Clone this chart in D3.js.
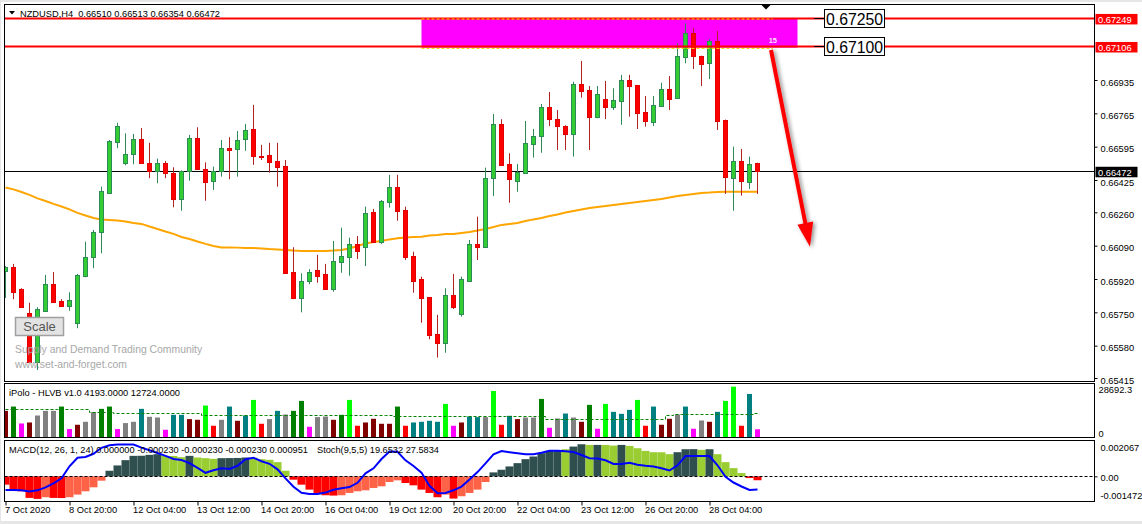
<!DOCTYPE html>
<html><head><meta charset="utf-8">
<script src="https://cdn.jsdelivr.net/npm/d3@7"></script>
<style>
html,body{margin:0;padding:0;background:#fff;overflow:hidden;}
svg{display:block;font-family:"Liberation Sans",Arial,sans-serif;}
</style></head><body>
<svg id="c" width="1142" height="524"></svg>
<script>
// ---------------- DATA ----------------
const symbolTitle = "NZDUSD,H4  0.66510 0.66513 0.66354 0.66472";
const open = [
0.65961,0.65983,0.65868,0.65747,0.65498,0.65758,0.65895,0.65808,0.65784,0.65697,
0.65935,0.66031,0.66158,0.66360,0.66617,0.66510,0.66556,0.66634,0.66510,0.66471,
0.66510,0.66459,0.66327,0.66471,0.66638,0.66480,0.66420,0.66471,0.66587,0.66582,
0.66633,0.66685,0.66549,0.66553,0.66522,0.66496,0.65956,0.65825,0.65910,0.65966,
0.65944,0.65868,0.66008,0.66034,0.66099,0.66085,0.66260,0.66110,0.66314,0.66388,
0.66272,0.66037,0.65920,0.65827,0.65640,0.65595,0.65839,0.65742,0.65911,0.66099,
0.66085,0.66434,0.66709,0.66505,0.66421,0.66462,0.66607,0.66651,0.66796,0.66736,
0.66702,0.66658,0.66913,0.66884,0.66748,0.66838,0.66799,0.66829,0.66935,0.66910,
0.66770,0.66722,0.66804,0.66888,0.66845,0.67054,0.67173,0.67057,0.67020,0.67134,
0.66731,0.66437,0.66520,0.66416,0.66510];
const high = [
0.65986,0.65997,0.65873,0.65799,0.65776,0.65941,0.65956,0.65817,0.65852,0.65946,
0.66110,0.66170,0.66391,0.66629,0.66717,0.66663,0.66660,0.66690,0.66615,0.66534,
0.66522,0.66490,0.66474,0.66655,0.66694,0.66515,0.66493,0.66629,0.66643,0.66675,
0.66711,0.66808,0.66604,0.66615,0.66615,0.66527,0.66082,0.65949,0.65970,0.66043,
0.65997,0.66114,0.66182,0.66131,0.66139,0.66289,0.66277,0.66323,0.66451,0.66451,
0.66289,0.66059,0.65932,0.65828,0.65737,0.65873,0.65946,0.65932,0.66119,0.66238,
0.66488,0.66762,0.66735,0.66561,0.66507,0.66726,0.66685,0.66813,0.66874,0.66782,
0.66704,0.66926,0.67032,0.66904,0.66904,0.66930,0.66893,0.66961,0.66961,0.66910,
0.66853,0.66853,0.66921,0.66955,0.67122,0.67224,0.67199,0.67059,0.67143,0.67185,
0.66733,0.66595,0.66583,0.66544,0.66513];
const low = [
0.65823,0.65817,0.65777,0.65497,0.65456,0.65755,0.65802,0.65782,0.65758,0.65669,
0.65929,0.65975,0.66051,0.66359,0.66587,0.66500,0.66505,0.66508,0.66434,0.66408,
0.66434,0.66286,0.66268,0.66421,0.66478,0.66319,0.66374,0.66442,0.66429,0.66442,
0.66574,0.66502,0.66527,0.66462,0.66391,0.65946,0.65817,0.65750,0.65893,0.65901,
0.65866,0.65855,0.65952,0.65937,0.66022,0.65986,0.66108,0.66099,0.66284,0.66217,
0.66017,0.65850,0.65697,0.65613,0.65519,0.65544,0.65767,0.65728,0.65908,0.66017,
0.66080,0.66343,0.66500,0.66309,0.66365,0.66460,0.66539,0.66564,0.66700,0.66578,
0.66578,0.66544,0.66845,0.66578,0.66740,0.66736,0.66782,0.66706,0.66748,0.66685,
0.66697,0.66700,0.66802,0.66782,0.66843,0.67020,0.66991,0.66904,0.66940,0.66680,
0.66354,0.66268,0.66345,0.66379,0.66354];
const close = [
0.65983,0.65855,0.65779,0.65498,0.65766,0.65895,0.65804,0.65784,0.65813,0.65941,
0.66031,0.66158,0.66369,0.66624,0.66700,0.66556,0.66634,0.66510,0.66471,0.66510,
0.66459,0.66327,0.66471,0.66638,0.66480,0.66416,0.66471,0.66587,0.66578,0.66629,
0.66680,0.66549,0.66542,0.66518,0.66493,0.65949,0.65825,0.65910,0.65956,0.65937,
0.65868,0.66012,0.66037,0.66099,0.66064,0.66255,0.66110,0.66318,0.66388,0.66268,
0.66034,0.65911,0.65825,0.65635,0.65595,0.65839,0.65779,0.65920,0.66099,0.66085,
0.66434,0.66709,0.66502,0.66429,0.66464,0.66612,0.66651,0.66796,0.66735,0.66702,
0.66658,0.66913,0.66880,0.66748,0.66862,0.66799,0.66833,0.66935,0.66906,0.66768,
0.66727,0.66808,0.66888,0.66838,0.67057,0.67173,0.67059,0.67017,0.67134,0.66727,
0.66442,0.66520,0.66421,0.66507,0.66472];
const movingAvg = [
0.66387,0.66377,0.66364,0.66349,0.66331,0.66318,0.66303,0.66290,0.66275,0.66257,
0.66244,0.66231,0.66224,0.66221,0.66218,0.66213,0.66206,0.66201,0.66188,0.66175,
0.66162,0.66150,0.66134,0.66124,0.66111,0.66099,0.66088,0.66081,0.66081,0.66080,
0.66078,0.66078,0.66076,0.66073,0.66071,0.66068,0.66065,0.66063,0.66063,0.66063,
0.66063,0.66065,0.66068,0.66076,0.66088,0.66101,0.66109,0.66114,0.66122,0.66128,
0.66132,0.66134,0.66136,0.66142,0.66145,0.66150,0.66150,0.66155,0.66160,0.66167,
0.66175,0.66185,0.66196,0.66201,0.66206,0.66216,0.66224,0.66231,0.66241,0.66249,
0.66259,0.66267,0.66275,0.66282,0.66287,0.66292,0.66298,0.66303,0.66308,0.66313,
0.66318,0.66323,0.66328,0.66336,0.66343,0.66349,0.66354,0.66359,0.66361,0.66364,
0.66365,0.66365,0.66365,0.66365,0.66365];
const volume = [
14157,16472,7321,7859,11627,14157,14157,16472,4306,6621,
8236,13458,15234,16472,4306,7536,8236,15234,10927,10551,
3930,12004,12004,9689,9313,17010,6083,9313,16472,8774,
11627,20079,7159,9689,14157,12166,14157,19540,5544,10766,
11089,9313,12004,20079,6083,7859,9851,7159,7159,16472,
6083,7859,8236,8774,8236,17925,6083,7859,11089,10766,
10766,24923,6621,11466,9689,10551,10551,20617,5006,10012,
12704,10551,8236,17387,4468,17925,13619,12542,14696,20079,
6083,16472,6621,9851,12166,16472,4468,8936,8236,13619,
19540,27238,6083,23308,4193];
const volumeType = [
"M","G","P","M","N","N","N","G","P","M",
"N","N","G","G","P","N","N","T","N","N",
"P","T","T","M","M","L","R","N","T","M",
"T","L","R","N","T","N","G","G","P","N",
"N","M","G","L","R","M","M","M","M","G",
"R","T","T","T","T","L","P","M","T","T",
"N","L","R","T","M","N","N","G","P","N",
"T","N","M","G","P","L","T","T","T","L",
"R","T","M","M","N","T","P","N","M","T",
"L","L","R","T","P"];
const volumeAvg = [
15070,15070,15070,15070,15070,15070,15070,15070,15070,15070,
15070,13780,13780,13780,12920,12920,12920,12920,12920,12920,
12920,12920,12920,12920,12920,12000,12000,12000,12000,12000,
12000,12000,12000,12000,12000,12000,12000,12000,12000,12000,
12000,12000,12000,12000,12000,12000,12000,12000,12000,11470,
11470,11470,11470,11470,11470,11470,11470,11470,11470,11470,
11470,11470,11470,11470,11470,11470,11470,11470,10010,10010,
10010,10010,10010,10010,10010,10010,10010,10010,10010,10010,
10010,10010,10010,12000,12600,12600,12600,12600,12600,12600,
12600,12600,12600,12600,12724];
const macdHist = [
-0.000490,-0.000783,-0.000881,-0.001272,-0.001330,-0.001232,-0.001272,-0.001280,-0.001232,-0.001076,
-0.000881,-0.000647,-0.000256,0.000330,0.000643,0.000955,0.001209,0.001215,0.001268,0.001307,
0.001209,0.001200,0.001131,0.001209,0.001112,0.001072,0.001033,0.001072,0.001078,0.001085,
0.001112,0.001100,0.001014,0.000975,0.000838,0.000330,-0.000197,-0.000490,-0.000783,-0.000979,
-0.001115,-0.001135,-0.001115,-0.000979,-0.000881,-0.000822,-0.000686,-0.000588,-0.000334,-0.000236,
-0.000393,-0.000529,-0.000783,-0.000979,-0.001232,-0.001076,-0.001311,-0.001174,-0.000979,-0.000783,
-0.000334,0.000233,0.000389,0.000584,0.000779,0.001014,0.001170,0.001365,0.001502,0.001530,
0.001600,0.001756,0.001893,0.001854,0.001854,0.001850,0.001815,0.001854,0.001795,0.001658,
0.001502,0.001424,0.001420,0.001307,0.001424,0.001600,0.001605,0.001561,0.001600,0.001307,
0.000838,0.000486,0.000193,-0.000100,-0.000230];
const macdType = [
"R","R","R","R","R","T","R","R","T","T",
"T","T","T","D","D","D","D","D","D","D",
"Y","Y","Y","D","Y","Y","Y","D","D","D",
"D","Y","Y","Y","Y","Y","R","R","R","R",
"R","R","T","T","T","T","T","T","T","T",
"R","R","R","R","R","T","R","T","T","T",
"T","D","D","D","D","D","D","D","D","D",
"Y","D","D","Y","D","Y","Y","D","Y","Y",
"Y","Y","Y","Y","D","D","D","Y","D","Y",
"Y","Y","Y","R","R"];
const stoch = [
18.8,18.8,18.3,16.2,18.3,23.3,30,38.3,58.3,72.5,
73.8,79.2,89.2,93.3,94.5,94.5,94.5,89.5,85,80.5,
75.8,70.5,68.8,63.7,55.8,47.5,51.7,55,53.8,59.2,
70,72.5,66.7,62.5,53.3,38.3,24.2,14.2,12.2,12.2,
14.5,19.2,21.7,23.8,30.8,46.7,55,70.5,82.8,82.5,
68.3,58.8,47.8,25.8,13.3,13.8,18.3,24.5,36.2,48.7,
63.3,78.3,83.7,81.7,80,78.3,78.3,80.8,84.2,84.2,
83.3,82,77.2,71.7,71.2,68.3,62.2,62.2,64.2,60.8,
59.2,58,55,51.3,60,75.5,75.5,75.5,75.5,60,
40.8,31.3,24.7,18.8,19.65];
const priceTicks = [0.66935,0.66765,0.66595,0.66425,0.66260,0.66090,0.65920,0.65750,0.65580,0.65415];
const levelLines = [0.67249,0.67106];
const lastPrice = 0.66472;
const zoneTop = 0.67250, zoneBottom = 0.67100;
const zoneStartIdx = 52, zoneEndIdx = 99, zoneDashEndIdx = 95.9, zoneCount = "15";
const zoneLabels = ["0.67250","0.67100"];
const arrowStart = [95.69, 0.67088];
const arrowEnd = [100.56, 0.66085];
const xTickIdx = [0,8,16,24,32,40,48,56,64,72,80,88];
const xTickLabels = ["7 Oct 2020","8 Oct 20:00","12 Oct 04:00","13 Oct 12:00","14 Oct 20:00","16 Oct 04:00","19 Oct 12:00","20 Oct 20:00","22 Oct 04:00","23 Oct 12:00","26 Oct 20:00","28 Oct 04:00"];
const volTitle = "iPolo - HLVB v1.0 4193.0000 12724.0000";
const volAxisMax = 28692.3;
const macdTitle = "MACD(12, 26, 1, 24) 0.000000 -0.000230 -0.000230 -0.000230 0.000951";
const stochTitle = "Stoch(9,5,5) 19.6532 27.5834";
const macdMax = 0.002067, macdMin = -0.001472;

// ---------------- STYLE ----------------
const volColor = {M:"#800000",G:"#008000",P:"#FF00FF",N:"#808080",T:"#008080",L:"#00FF00",R:"#FF0000"};
const macdColor = {R:"#FF0000",T:"#FF6347",D:"#2F4F4F",Y:"#9ACD32"};
const FS = 9.3;

// ---------------- SCALES ----------------
const L = 4.5, R = 1094.5;
const x = d3.scaleLinear().domain([0, 94]).range([5.5, 757.5]);
const y = d3.scaleLinear().domain([0.65415, 0.66935]).range([378, 80]);
const yVol = d3.scaleLinear().domain([0, volAxisMax]).range([437, 384]);
const yMacd = d3.scaleLinear().domain([macdMin, macdMax]).range([501.3, 441.3]);
const yStoch = d3.scaleLinear().domain([0, 100]).range([501.3, 441.3]);

const svg = d3.select("#c");
svg.append("rect").attr("width",1142).attr("height",524).attr("fill","#E6E6E6");
svg.append("rect").attr("x",1).attr("y",2).attr("width",1141).attr("height",519).attr("fill","#fff");

const defs = svg.append("defs");
[["clipMain",4.5,381.5],["clipVol",383.5,437.5],["clipMacd",440.5,501.5]].forEach(([id,t,b])=>{
  defs.append("clipPath").attr("id",id).append("rect").attr("x",L).attr("y",t).attr("width",R-L).attr("height",b-t);
});
const f = defs.append("filter").attr("id","shadow").attr("x","-50%").attr("y","-20%").attr("width","200%").attr("height","140%");
f.append("feDropShadow").attr("dx",2).attr("dy",1).attr("stdDeviation",2).attr("flood-color","#000").attr("flood-opacity",0.45);

// ---------------- MAIN PANEL ----------------
const gm = svg.append("g").attr("clip-path","url(#clipMain)");
gm.append("rect").attr("x",x(zoneStartIdx)).attr("y",y(zoneTop))
  .attr("width",x(zoneEndIdx)-x(zoneStartIdx)).attr("height",y(zoneBottom)-y(zoneTop)).attr("fill","#FF00FF");
gm.append("line").attr("x1",L).attr("x2",R).attr("y1",Math.round(y(lastPrice))+0.5).attr("y2",Math.round(y(lastPrice))+0.5)
  .attr("stroke","#000").attr("stroke-width",1);
gm.append("path").datum(movingAvg).attr("fill","none").attr("stroke","#FFA500").attr("stroke-width",2)
  .attr("d", d3.line().x((d,i)=>x(i)).y(d=>y(d)));
const cg = gm.append("g");
open.forEach((o,i)=>{
  const c = close[i], up = c > o;
  const cx = x(i);
  cg.append("line").attr("x1",cx).attr("x2",cx).attr("y1",y(high[i])).attr("y2",y(low[i]))
    .attr("stroke", up ? "#2E8B57" : "#B22222").attr("stroke-width",1);
  const t = Math.round(y(Math.max(o,c))), b = Math.round(y(Math.min(o,c)));
  cg.append("rect").attr("x",cx-2).attr("y",t+0.5).attr("width",4).attr("height",Math.max(1,b-t))
    .attr("fill", up ? "#32CD32" : "#FF0000").attr("stroke", up ? "#2E8B57" : "#E00000").attr("stroke-width",1);
});
levelLines.forEach(p=>{
  gm.append("line").attr("x1",L).attr("x2",R).attr("y1",y(p)).attr("y2",y(p)).attr("stroke","#FF0000").attr("stroke-width",2);
});
[y(zoneTop)+0.8, y(zoneBottom)+0.8].forEach(yy=>{
  gm.append("line").attr("x1",x(zoneStartIdx)).attr("x2",x(zoneDashEndIdx)).attr("y1",yy).attr("y2",yy)
    .attr("stroke","#FFD700").attr("stroke-width",1).attr("stroke-dasharray","3,2");
});
gm.append("text").attr("x",x(zoneDashEndIdx)-4).attr("y",y(zoneBottom)-4.5).attr("fill","#FFE0FF")
  .attr("font-size",7.5).attr("font-weight","bold").text(zoneCount);

// arrow
{
  const x1=x(arrowStart[0]), y1=y(arrowStart[1]), x2=x(arrowEnd[0]), y2=y(arrowEnd[1]);
  const dx=x2-x1, dy=y2-y1, len=Math.hypot(dx,dy), ux=dx/len, uy=dy/len, px=-uy, py=ux;
  const hl=24, hw=8;
  const bx=x2-ux*hl, by=y2-uy*hl;
  const ag = svg.append("g").attr("filter","url(#shadow)");
  ag.append("line").attr("x1",x1).attr("y1",y1).attr("x2",bx+ux*2).attr("y2",by+uy*2)
    .attr("stroke","#FF0000").attr("stroke-width",4);
  ag.append("path").attr("d",`M${x2},${y2}L${bx+px*hw},${by+py*hw}L${bx-px*hw},${by-py*hw}Z`).attr("fill","#FF0000");
}

// zone price boxes
levelLines.forEach((p,k)=>{
  const yy = y(p);
  svg.append("line").attr("x1",814).attr("x2",824).attr("y1",Math.round(yy)+0.5).attr("y2",Math.round(yy)+0.5).attr("stroke","#000");
  svg.append("rect").attr("x",824.5).attr("y",Math.round(yy)-8.5).attr("width",60).attr("height",18)
    .attr("fill","#fff").attr("stroke","#000").attr("stroke-width",1);
  svg.append("text").attr("x",826).attr("y",Math.round(yy)+7).attr("font-size",17)
    .attr("textLength",57).attr("lengthAdjust","spacingAndGlyphs").attr("fill","#000").text(zoneLabels[k]);
});

svg.append("path").attr("d","M761,4.5L771,4.5L766,9.5Z").attr("fill","#000");

// header
svg.append("path").attr("d","M9,11L15,11L12,14.5Z").attr("fill","#000");
svg.append("text").attr("x",20).attr("y",16.5).attr("font-size",9.5).style("white-space","pre")
  .attr("textLength",200).attr("lengthAdjust","spacingAndGlyphs").text(symbolTitle);

// watermark + scale button
svg.append("text").attr("x",15).attr("y",352.5).attr("font-size",10.4).attr("fill","#A8A8A8").text("Supply and Demand Trading Community");
svg.append("text").attr("x",15).attr("y",368).attr("font-size",10.4).attr("fill","#A8A8A8").text("www.set-and-forget.com");
svg.append("rect").attr("x",15.5).attr("y",317.5).attr("width",48).attr("height",18).attr("fill","#E3E3E3")
  .attr("stroke","#A0A0A0").attr("stroke-width",1.5);
svg.append("text").attr("x",39.5).attr("y",331).attr("text-anchor","middle").attr("font-size",13).attr("fill","#555").text("Scale");

// ---------------- VOLUME PANEL ----------------
const gv = svg.append("g").attr("clip-path","url(#clipVol)");
volume.forEach((v,i)=>{
  gv.append("rect").attr("x",x(i)-2.5).attr("y",yVol(v)).attr("width",5).attr("height",yVol(0)-yVol(v))
    .attr("fill",volColor[volumeType[i]]);
});
gv.append("path").datum(volumeAvg).attr("fill","none").attr("stroke","#008000").attr("stroke-width",1)
  .attr("stroke-dasharray","3,2").attr("d", d3.line().x((d,i)=>x(i)).y(d=>Math.round(yVol(d))+0.5).curve(d3.curveStep));
svg.append("text").attr("x",9).attr("y",396).attr("font-size",9.5)
  .attr("textLength",171).attr("lengthAdjust","spacingAndGlyphs").text(volTitle);

// ---------------- MACD PANEL ----------------
const gc = svg.append("g").attr("clip-path","url(#clipMacd)");
macdHist.forEach((v,i)=>{
  const y0 = yMacd(0), y1 = yMacd(v);
  gc.append("rect").attr("x",x(i)-4).attr("width",8).attr("y",Math.min(y0,y1)).attr("height",Math.abs(y1-y0))
    .attr("fill",macdColor[macdType[i]]);
});
gc.append("line").attr("x1",L).attr("x2",R).attr("y1",Math.round(yMacd(0))+0.5).attr("y2",Math.round(yMacd(0))+0.5)
  .attr("stroke","#000").attr("stroke-dasharray","3,2");
svg.append("text").attr("x",9).attr("y",453).attr("font-size",9.5)
  .attr("textLength",299).attr("lengthAdjust","spacingAndGlyphs").text(macdTitle);
svg.append("text").attr("x",317).attr("y",453).attr("font-size",9.5)
  .attr("textLength",122).attr("lengthAdjust","spacingAndGlyphs").text(stochTitle);
gc.append("path").datum(stoch).attr("fill","none").attr("stroke","#0000FF").attr("stroke-width",2)
  .attr("d", d3.line().x((d,i)=>x(i)).y(d=>yStoch(d)));

// ---------------- FRAMES ----------------
[[4.5,381.5],[383.5,437.5],[440.5,501.5]].forEach(([t,b])=>{
  svg.append("rect").attr("x",L).attr("y",t).attr("width",R-L).attr("height",b-t).attr("fill","none").attr("stroke","#000");
});

// ---------------- AXES ----------------
const pg = svg.append("g").attr("transform",`translate(${R},0)`)
  .call(d3.axisRight(y).tickValues(priceTicks).tickSize(3).tickPadding(3).tickFormat(d=>d.toFixed(5)));
pg.select(".domain").remove();
pg.attr("font-family",null).attr("font-size",FS);
pg.selectAll("text").attr("dy","0.55em").attr("fill","#000");

levelLines.forEach(p=>{
  const yy=y(p);
  svg.append("rect").attr("x",1095.5).attr("y",yy-4.5).attr("width",42).attr("height",10.5).attr("fill","#FF0000");
  svg.append("text").attr("x",1098).attr("y",yy+4.6).attr("font-size",FS).attr("fill","#fff").text(p.toFixed(5));
});
{
  const yy=y(lastPrice);
  svg.append("rect").attr("x",1095.5).attr("y",yy-4).attr("width",42).attr("height",10.5).attr("fill","#000");
  svg.append("text").attr("x",1098).attr("y",yy+5).attr("font-size",FS).attr("fill","#fff").text(lastPrice.toFixed(5));
}

const vg = svg.append("g").attr("transform",`translate(${R},0)`)
  .call(d3.axisRight(yVol).tickValues([volAxisMax,0]).tickSize(0).tickPadding(4).tickFormat(d=>d===0?"0":d.toFixed(1)));
vg.select(".domain").remove();
vg.attr("font-family",null).attr("font-size",FS);
vg.selectAll(".tick text").attr("dy",(d)=>d===0?"-0.1em":"0.95em").attr("fill","#000");

const mg = svg.append("g").attr("transform",`translate(${R},0)`)
  .call(d3.axisRight(yMacd).tickValues([macdMax,0,macdMin]).tickSize(3).tickPadding(3)
  .tickFormat(d=>d===0?"0.00":d.toFixed(6)));
mg.select(".domain").remove();
mg.attr("font-family",null).attr("font-size",FS);
mg.selectAll(".tick text").attr("dy",(d)=>d===macdMax?"1.0em":(d===macdMin?"-0.3em":"0.4em")).attr("fill","#000");
mg.selectAll(".tick line").attr("stroke",(d)=>d===0?"#000":"none");

const tg = svg.append("g").attr("transform","translate(0,501.5)")
  .call(d3.axisBottom(x).tickValues(xTickIdx).tickSize(4).tickFormat((d,i)=>xTickLabels[i]));
tg.select(".domain").remove();
tg.attr("font-family",null).attr("font-size",FS);
tg.selectAll(".tick text").attr("text-anchor","start").attr("x",-1).attr("y",5).attr("dy","0.71em").attr("fill","#000");
</script></body></html>
